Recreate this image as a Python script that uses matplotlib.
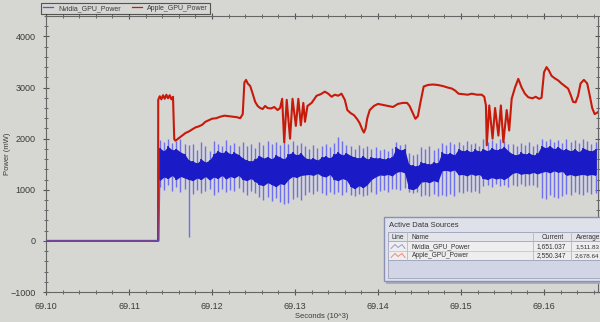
import matplotlib
matplotlib.use("Agg")
import matplotlib.pyplot as plt
from matplotlib.patches import Rectangle
from matplotlib.ticker import MultipleLocator, FormatStrFormatter

plt.rcParams["font.family"] = ["Liberation Sans", "DejaVu Sans"]

# Apple GPU power (mW) vs time (10^3 s)
apple_t = [69.1000, 69.11350, 69.11352, 69.1137, 69.1139, 69.1141, 69.1143, 69.1145, 69.1147,
           69.1149, 69.1151, 69.1153, 69.11545, 69.1156, 69.1160, 69.1164, 69.1168, 69.1172,
           69.1176, 69.1180, 69.1184, 69.1188, 69.1192, 69.1196, 69.1200, 69.1205, 69.1210,
           69.1215, 69.1220, 69.1225, 69.1230, 69.1234, 69.1237, 69.1239, 69.1241, 69.1243,
           69.1246, 69.1249, 69.1252, 69.1255, 69.1258, 69.1261, 69.1264, 69.1267, 69.1271,
           69.1275, 69.1279, 69.1282, 69.12845, 69.1287, 69.1290, 69.1294, 69.1297, 69.1301,
           69.1304, 69.1307, 69.1310, 69.1312, 69.1315, 69.1320, 69.1326, 69.1331, 69.1336,
           69.1340, 69.1344, 69.1348, 69.1352, 69.1356, 69.1360, 69.1363, 69.1367, 69.1371,
           69.1375, 69.1378, 69.1381, 69.1383, 69.1385, 69.1387, 69.1390, 69.1395, 69.1400,
           69.1406, 69.1412, 69.1418, 69.1424, 69.1430, 69.1435, 69.1438, 69.1442, 69.1445,
           69.1448, 69.1451, 69.1455, 69.1460, 69.1466, 69.1472, 69.1478, 69.1484, 69.1489,
           69.1493, 69.1497, 69.1502, 69.1508, 69.1513, 69.1519, 69.1525, 69.1528, 69.1530,
           69.1531, 69.1534, 69.1538, 69.1541, 69.1545, 69.1548, 69.1551, 69.1555, 69.1558,
           69.1561, 69.1565, 69.1569, 69.1573, 69.1577, 69.1581, 69.1586, 69.1590, 69.1594,
           69.1597, 69.1600, 69.1603, 69.1606, 69.1609, 69.1613, 69.1617, 69.1621, 69.1625,
           69.1629, 69.1632, 69.1635, 69.1638, 69.1641, 69.1644, 69.1648, 69.1652, 69.1655,
           69.1658, 69.1661, 69.1665]
apple_mw = [0, 0, 2760, 2830, 2770, 2850, 2780, 2860, 2790,
            2850, 2770, 2820, 1990, 1960, 2010, 2060, 2110, 2140,
            2180, 2220, 2240, 2270, 2330, 2360, 2390, 2400, 2430,
            2450, 2440, 2430, 2420, 2400, 2480, 3100, 3150, 3080,
            3030, 2880, 2720, 2640, 2600, 2580, 2640, 2600, 2590,
            2620, 2560, 2600, 2780, 1930, 2760, 2000, 2780, 2250,
            2780, 2260, 2700, 2330, 2640, 2700, 2840, 2870, 2920,
            2880, 2820, 2860, 2840, 2880, 2760, 2560, 2500, 2460,
            2380, 2300, 2180, 2120, 2200, 2400, 2560, 2640, 2680,
            2660, 2640, 2620, 2680, 2700, 2700, 2640, 2500, 2390,
            2440, 2700, 3020, 3050, 3060, 3050, 3030, 3000, 2980,
            2940, 2880, 2870, 2860, 2880, 2860, 2860, 2820, 2650,
            1870, 2650, 2000, 2600, 2060, 2650, 1930, 2560, 2160,
            2780, 3000, 3170, 3000, 2880, 2810, 2790, 2820, 2780,
            2800, 3300, 3400, 3330, 3230, 3180, 3140, 3080, 3030,
            2980, 2860, 2720, 2710, 2840, 3080, 3150, 3080, 2850,
            2600, 2480, 2520]

# Nvidia GPU power: idle part, then band read every 0.5 ms from 69.1137
nvidia_idle_t = [69.1000, 69.1136]
nvidia_idle_mw = [0, 0]
nvidia_t = [69.1137, 69.1142, 69.1147, 69.1152, 69.1157, 69.1162, 69.1167, 69.1172, 69.1177, 69.1182,
            69.1187, 69.1192, 69.1197, 69.1202, 69.1207, 69.1212, 69.1217, 69.1222, 69.1227, 69.1232,
            69.1237, 69.1242, 69.1247, 69.1252, 69.1257, 69.1262, 69.1267, 69.1272, 69.1277, 69.1282,
            69.1287, 69.1292, 69.1297, 69.1302, 69.1307, 69.1312, 69.1317, 69.1322, 69.1327, 69.1332,
            69.1337, 69.1342, 69.1347, 69.1352, 69.1357, 69.1362, 69.1367, 69.1372, 69.1377, 69.1382,
            69.1387, 69.1392, 69.1397, 69.1402, 69.1407, 69.1412, 69.1417, 69.1422, 69.1427, 69.1432,
            69.1437, 69.1442, 69.1447, 69.1452, 69.1457, 69.1462, 69.1467, 69.1472, 69.1477, 69.1482,
            69.1487, 69.1492, 69.1497, 69.1502, 69.1507, 69.1512, 69.1517, 69.1522, 69.1527, 69.1532,
            69.1537, 69.1542, 69.1547, 69.1552, 69.1557, 69.1562, 69.1567, 69.1572, 69.1577, 69.1582,
            69.1587, 69.1592, 69.1597, 69.1602, 69.1607, 69.1612, 69.1617, 69.1622, 69.1627, 69.1632,
            69.1637, 69.1642, 69.1647, 69.1652, 69.1657, 69.1662]
nvidia_peak_hi = [1980, 1940, 2000, 1920, 1960, 1990, 1900, 1870, 1900, 1780,
                  1930, 1850, 1760, 1950, 1900, 1860, 1980, 1880, 1920, 1850,
                  1940, 1860, 1900, 1820, 1930, 1880, 1960, 1900, 1940, 1870,
                  1980, 1900, 1960, 1880, 1920, 1850, 1800, 1880, 1820, 1860,
                  1900, 1840, 1920, 2040, 1950, 1880, 1850, 1800, 1880, 1820,
                  1860, 1800, 1840, 1780, 1800, 1760, 1820, 1930, 1880, 1900,
                  1720, 1680, 1700, 1840, 1800, 1860, 1780, 1820, 1920, 1880,
                  1940, 1900, 1930, 1880, 1950, 1900, 1920, 1860, 2000, 1940,
                  1980, 1920, 2000, 1960, 1900, 1900, 1860, 1920, 1880, 1930,
                  1860, 1900, 2000, 1960, 2000, 1940, 1980, 1920, 2000, 1940,
                  1980, 1920, 2000, 1960, 1900, 1940]
nvidia_core_hi = [1820, 1760, 1850, 1780, 1800, 1740, 1700, 1580, 1560, 1520,
                  1600, 1540, 1580, 1700, 1760, 1720, 1760, 1700, 1730, 1690,
                  1620, 1580, 1560, 1600, 1670, 1620, 1650, 1600, 1680, 1640,
                  1600, 1700, 1730, 1680, 1720, 1630, 1600, 1620, 1580, 1640,
                  1660, 1620, 1700, 1730, 1680, 1720, 1670, 1640, 1620, 1660,
                  1600, 1640, 1620, 1630, 1600, 1620, 1640, 1830, 1780, 1800,
                  1500, 1480, 1460, 1540, 1520, 1500, 1540, 1520, 1730, 1700,
                  1720, 1680, 1800, 1760, 1780, 1740, 1790, 1750, 1800, 1760,
                  1820, 1780, 1800, 1840, 1760, 1700, 1680, 1730, 1700, 1720,
                  1680, 1710, 1860, 1820, 1860, 1800, 1840, 1780, 1800, 1760,
                  1800, 1740, 1820, 1780, 1760, 1800]
nvidia_core_lo = [1180, 1250, 1220, 1280, 1200, 1260, 1230, 1200, 1180, 1230,
                  1200, 1260, 1190, 1250, 1220, 1280, 1210, 1260, 1230, 1280,
                  1200, 1180, 1220, 1160, 1100, 1080, 1140, 1100, 1060, 1120,
                  1100, 1200, 1260, 1240, 1280, 1290, 1300, 1280, 1320, 1270,
                  1250, 1300, 1200, 1180, 1220, 1190, 1060, 1020, 1080, 1040,
                  1100, 1200, 1250, 1290, 1280, 1300, 1270, 1340, 1360, 1330,
                  1020, 1000, 1040, 1150, 1160, 1140, 1180, 1150, 1370, 1380,
                  1360, 1390, 1290, 1300, 1270, 1310, 1280, 1300, 1220, 1200,
                  1240, 1210, 1230, 1200, 1250, 1320, 1340, 1300, 1320, 1310,
                  1340, 1310, 1340, 1360, 1330, 1370, 1340, 1360, 1280, 1300,
                  1270, 1290, 1300, 1280, 1300, 1280]
nvidia_peak_lo = [1060, 1000, 1100, 980, 1050, 960, 1020, 80, 920, 1000,
                  940, 980, 1010, 900, 960, 1020, 950, 1000, 980, 1040,
                  960, 900, 980, 940, 860, 800, 860, 780, 840, 760,
                  720, 740, 820, 860, 800, 900, 960, 920, 980, 940,
                  900, 960, 920, 960, 900, 950, 900, 880, 920, 870,
                  900, 950, 920, 980, 1000, 960, 1010, 1020, 1000, 1040,
                  960, 940, 960, 880, 900, 870, 920, 880, 900, 880,
                  920, 880, 960, 940, 980, 950, 970, 940, 1080, 1100,
                  1060, 1120, 1080, 1100, 1060, 1100, 1080, 1120, 1080, 1100,
                  1090, 1060, 840, 820, 900, 860, 830, 880, 920, 900,
                  960, 920, 900, 950, 920, 940]

BG = "#d6d6d3"
fig = plt.figure(figsize=(6, 3.22), dpi=100)
fig.patch.set_facecolor(BG)
ax = fig.add_axes([46 / 600, 30 / 322, 552 / 600, 276 / 322])
ax.set_facecolor(BG)

ax.plot(apple_t, apple_mw, color="#c81a0a", lw=1.5, zorder=4)
ax.plot(nvidia_idle_t + nvidia_t[:1], nvidia_idle_mw + nvidia_core_lo[:1],
        color="#5555cc", lw=0.9, zorder=5)
ax.vlines(nvidia_t, nvidia_peak_lo, nvidia_peak_hi, color="#6e6ef0", lw=1.0, zorder=2)
ax.fill_between(nvidia_t, nvidia_core_lo, nvidia_core_hi, color="#1a1ac6", lw=0, zorder=3)
ax.vlines(nvidia_t, nvidia_core_lo, nvidia_core_hi, color="#1a1ac6", lw=1.2, zorder=3)

ax.set_xlim(69.10, 69.1665)
ax.set_ylim(-1000, 4400)
ax.xaxis.set_major_locator(MultipleLocator(0.01))
ax.xaxis.set_minor_locator(MultipleLocator(0.002))
ax.xaxis.set_major_formatter(FormatStrFormatter("%.2f"))
ax.yaxis.set_major_locator(MultipleLocator(1000))
ax.yaxis.set_minor_locator(MultipleLocator(200))
ax.tick_params(which="both", direction="inout", colors="#555555", labelcolor="#3a3a3a",
               labelsize=6.5, top=True, right=True, pad=5)
ax.tick_params(which="major", length=5, width=0.8)
ax.tick_params(which="minor", length=3, width=0.6)
for s in ax.spines.values():
    s.set_color("#666666")
    s.set_linewidth(0.8)
ax.set_xlabel("Seconds (10^3)", fontsize=5.5, color="#3a3a3a")
ax.set_ylabel("Power (mW)", fontsize=5.5, color="#3a3a3a")
ax.xaxis.set_label_coords(0.5, -0.075)
ax.yaxis.set_label_coords(-0.063, 0.5)

h1, = ax.plot([], [], color="#5555cc", lw=0.9, label="Nvidia_GPU_Power")
h2, = ax.plot([], [], color="#c81a0a", lw=0.9, label="Apple_GPU_Power")
leg = fig.legend(handles=[h1, h2], ncol=2, loc="lower left", fontsize=5,
                 bbox_to_anchor=(41 / 600, (322 - 14) / 322), borderaxespad=0,
                 frameon=True, fancybox=False, borderpad=0.3, handlelength=1.4,
                 columnspacing=1.6, handletextpad=0.8)
leg.get_frame().set_facecolor(BG)
leg.get_frame().set_edgecolor("#333333")
leg.get_frame().set_linewidth(0.8)
for t in leg.get_texts():
    t.set_color("#3a3a3a")

# "Active Data Sources" panel, drawn in pixel coordinates
ov = fig.add_axes([0, 0, 1, 1])
ov.set_xlim(0, 600)
ov.set_ylim(322, 0)
ov.axis("off")
ov.patch.set_alpha(0)
ov.add_patch(Rectangle((386, 220), 220, 64, color="#a9acbf", lw=0))
ov.add_patch(Rectangle((384, 217), 220, 64, facecolor="#dfe1ea", edgecolor="#8a90b4", lw=1.0))
ov.text(389, 225, "Active Data Sources", fontsize=5.5, color="#333333", va="center")
ov.add_patch(Rectangle((388, 232), 215, 28, facecolor="#eeeeef", edgecolor="#a0a4bc", lw=0.6))
ov.add_patch(Rectangle((388, 232), 215, 9, facecolor="#e4e5ea", edgecolor="#a0a4bc", lw=0.6))
ov.add_patch(Rectangle((388, 260), 215, 18, facecolor="#d2d5e6", edgecolor="#a0a4bc", lw=0.6))
ov.plot([388, 603], [251, 251], color="#c4c6d2", lw=0.6)
for x in (407, 533, 571):
    ov.plot([x, x], [232, 260], color="#b4b7c8", lw=0.6)
ov.text(391, 237, "Line", fontsize=4.8, color="#333333", va="center")
ov.text(411, 237, "Name", fontsize=4.8, color="#333333", va="center")
ov.text(542, 237, "Current", fontsize=4.8, color="#333333", va="center")
ov.text(576, 237, "Average", fontsize=4.8, color="#333333", va="center")
rows = [("Nvidia_GPU_Power", "1,651.037", "1,511.83", "#8c8cd8"),
        ("Apple_GPU_Power", "2,550.347", "2,678.64", "#e08070")]
for k, (name, cur, avg, col) in enumerate(rows):
    y = 246.5 + 9 * k
    ov.plot([391, 395, 398, 402, 405], [y + 2, y - 2, y + 1, y - 2, y + 2], color=col, lw=0.6)
    ov.text(412, y, name, fontsize=4.8, color="#333333", va="center")
    ov.text(566, y, cur, fontsize=4.8, color="#333333", va="center", ha="right")
    ov.text(575, y, avg, fontsize=4.5, color="#333333", va="center")

fig.savefig("out.png", dpi=100, facecolor=BG)
